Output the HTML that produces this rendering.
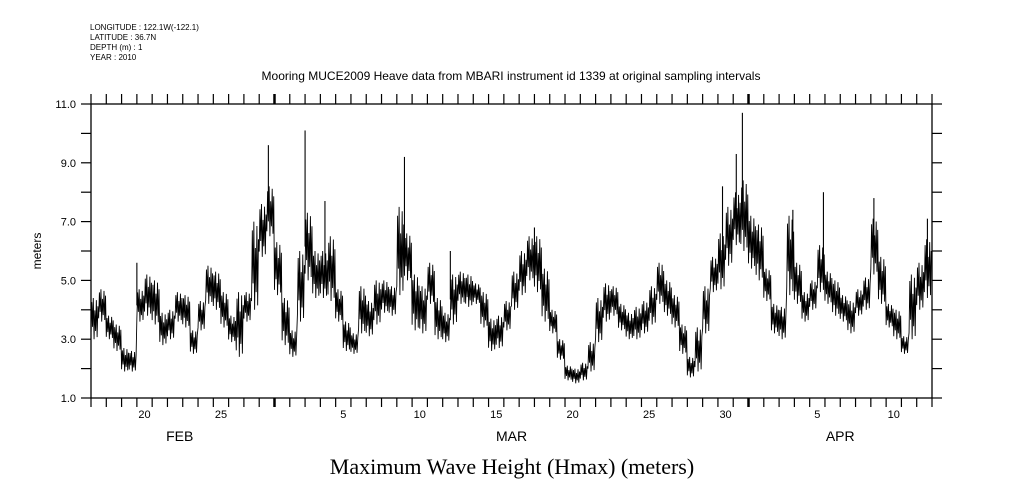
<!DOCTYPE html>
<html><head><meta charset="utf-8"><style>
html,body{margin:0;padding:0;background:#fff;}
svg{display:block;}
text{font-family:"Liberation Sans",sans-serif;fill:#000;}
</style></head><body>
<svg id="chart" width="1009" height="504" viewBox="0 0 1009 504" xmlns="http://www.w3.org/2000/svg">
<g font-size="8">
<text x="90" y="30">LONGITUDE : 122.1W(-122.1)</text>
<text x="90" y="40">LATITUDE : 36.7N</text>
<text x="90" y="50">DEPTH (m) : 1</text>
<text x="90" y="60">YEAR : 2010</text>
</g>
<text x="511" y="80" text-anchor="middle" font-size="12">Mooring MUCE2009 Heave data from MBARI instrument id 1339 at original sampling intervals</text>
<text transform="translate(41,251) rotate(-90)" text-anchor="middle" font-size="12">meters</text>
<text x="512" y="474" text-anchor="middle" font-size="22" style="font-family:'Liberation Serif',serif">Maximum Wave Height (Hmax) (meters)</text>
<g id="axes"></g>
<g id="series"></g>
</svg>
<script>
// Half-day low/high envelope (meters), days from Feb 17 2010 00:00
const halfDayLow  = [3.0,3.6, 3.0,2.6, 1.9,1.9, 3.6,3.8, 3.5,2.8, 3.0,3.6, 3.4,2.5, 3.3,4.2, 4.0,3.4, 2.9,2.4, 3.6,4.0, 5.8,6.5, 4.5,2.8, 2.4,3.6,
  5.0,4.4, 4.4,4.3, 3.6,2.6, 2.5,3.2, 3.1,3.5, 3.9,3.8, 4.5,5.0, 3.3,3.2, 4.2,3.0, 2.9,3.5, 4.2,4.1, 4.2,3.4, 2.6,2.7, 3.3,4.0,
  4.5,5.0, 4.6,3.6, 3.2,2.3, 1.6,1.5, 1.6,1.9, 2.9,3.6, 3.8,3.3, 3.0,3.0, 3.2,3.5, 4.2,3.8, 3.4,2.5, 1.7,1.9, 3.2,4.6, 4.7,5.5,
  6.2,6.0, 5.4,5.0, 4.3,3.2, 3.0,4.5, 4.2,3.6, 4.0,4.6, 4.2,3.8, 3.6,3.2, 3.8,4.0, 5.2,4.2, 3.4,3.0, 2.5,3.0, 4.0,4.4];
const halfDayHigh = [4.4,4.7, 3.8,3.5, 2.7,2.6, 4.7,5.2, 5.0,3.9, 4.0,4.6, 4.5,3.3, 4.3,5.5, 5.3,4.6, 3.8,4.6, 4.6,7.0, 7.6,8.2, 6.3,4.4, 3.3,6.0,
  7.3,6.0, 6.0,6.5, 4.7,3.6, 3.2,4.8, 4.3,5.0, 5.0,4.8, 7.5,6.6, 5.2,4.8, 5.6,4.4, 3.9,5.2, 5.3,5.2, 4.9,4.6, 3.7,3.8, 4.3,5.3,
  6.0,6.5, 6.5,5.4, 4.0,3.0, 2.1,2.0, 2.2,2.9, 4.4,4.9, 4.8,4.2, 3.9,4.1, 4.3,4.8, 5.6,5.0, 4.5,3.5, 2.4,3.4, 4.8,5.8, 6.6,7.5,
  8.0,8.4, 7.2,6.9, 5.4,4.2, 4.1,7.2, 5.6,4.6, 5.0,6.2, 5.3,5.0, 4.5,4.3, 4.7,5.1, 7.1,5.8, 4.2,4.0, 3.1,5.2, 5.6,6.4];
const spikeDays   = [3.0, 11.6, 14.0, 20.5, 15.3, 41.3, 42.2, 42.6, 45.9, 47.9, 51.2, 54.7, 23.5, 29.0];
const spikeValues = [5.6, 9.6, 10.1, 9.2, 7.7, 8.2, 9.3, 10.7, 7.4, 8.0, 7.8, 7.1, 6.0, 6.8];
const yTicks = [1,2,3,4,5,6,7,8,9,10,11];
const yLabels = ["1.0","3.0","5.0","7.0","9.0","11.0"];
const dayLabels = [["20",3],["25",8],["5",16],["10",21],["15",26],["20",31],["25",36],["30",41],["5",47],["10",52]];
const monthLabels = [["FEB",5.8],["MAR",27.5],["APR",49]];
const majorDays = [12, 43];

const X0=91, X1=932, Y0=398, Y1=104, NDAYS=55;
const xs = d => X0 + d*(X1-X0)/NDAYS;
const ys = v => Y0 - (v-1)*(Y0-Y1)/10;
const NS="http://www.w3.org/2000/svg";
function mk(tag, attrs, parent){const e=document.createElementNS(NS,tag);for(const k in attrs)e.setAttribute(k,attrs[k]);parent.appendChild(e);return e;}
const axes=document.getElementById('axes'), series=document.getElementById('series');

const frame=mk('rect',{x:X0,y:Y1,width:X1-X0,height:Y0-Y1,fill:'none',stroke:'#000','stroke-width':1.3},axes);


yTicks.forEach(v=>{
  const y=ys(v);
  const tl=mk('line',{x1:X0-10,x2:X0,y1:y,y2:y,stroke:'#000','stroke-width':1.2},axes);
  
  
  const tr=mk('line',{x1:X1,x2:X1+10,y1:y,y2:y,stroke:'#000','stroke-width':1.2},axes);
  
  
});
yLabels.forEach(s=>{
  const t=mk('text',{x:76,y:ys(parseFloat(s))+4,'text-anchor':'end','font-size':11},axes);
  t.textContent=s;
  
  
});
for(let d=0; d<=NDAYS; d++){
  const x=xs(d), maj=majorDays.includes(d), w=maj?2.5:1.2;
  const tt=mk('line',{x1:x,x2:x,y1:Y1-10,y2:Y1,stroke:'#000','stroke-width':w},axes);
  
  
  const tb=mk('line',{x1:x,x2:x,y1:Y0,y2:Y0+9,stroke:'#000','stroke-width':w},axes);
  
  
}
dayLabels.forEach(([s,d])=>{
  const t=mk('text',{x:xs(d+0.5),y:418,'text-anchor':'middle','font-size':11},axes);
  t.textContent=s;
  
  
});
monthLabels.forEach(([s,d])=>{
  const t=mk('text',{x:xs(d),y:441,'text-anchor':'middle','font-size':14},axes);
  t.textContent=s;
  
  
});

// zigzag rendering pattern within each half-day envelope
const pat=[0.1,0.9,0.3,1.0,0.0,0.7,0.2,0.95,0.05,0.8];
let pts=[];
for(let i=0;i<halfDayLow.length;i++){
  const lo=halfDayLow[i], hi=halfDayHigh[i];
  for(let k=0;k<pat.length;k++){
    const d=(i+k/pat.length)*0.5;
    pts.push(xs(d).toFixed(2)+','+ys(lo+(hi-lo)*pat[k]).toFixed(2));
  }
}
const line=mk('polyline',{points:pts.join(' '),fill:'none',stroke:'#000','stroke-width':0.9,'stroke-linejoin':'miter'},series);


spikeDays.forEach((d,i)=>{
  const idx=Math.min(halfDayLow.length-1,Math.floor(d*2));
  const base=(halfDayLow[idx]+halfDayHigh[idx])/2;
  const s=mk('line',{x1:xs(d),x2:xs(d),y1:ys(base),y2:ys(spikeValues[i]),stroke:'#000','stroke-width':1.1},series);
  
  
});
</script>
</body></html>
